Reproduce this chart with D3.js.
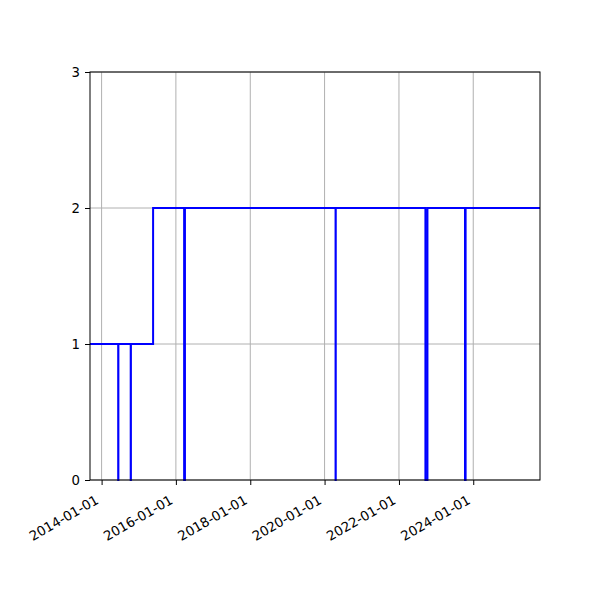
<!DOCTYPE html>
<html>
<head>
<meta charset="utf-8">
<script src="https://cdn.jsdelivr.net/npm/d3@7"></script>
<style>
  body { margin: 0; background: #fff; }
  text { font-family: "DejaVu Sans", sans-serif; }
</style>
</head>
<body>
<div id="chart"></div>
<script>
// step series (value holds until the next date)
const dates = ["2013-09-09", "2014-06-13", "2014-06-15", "2014-10-14", "2014-10-16",
  "2015-05-22", "2016-03-22", "2016-03-30", "2020-04-18", "2020-04-20",
  "2022-09-18", "2022-10-08", "2023-10-12", "2023-10-18", "2025-10-18"];
const values = [1, 0, 1, 0, 1, 2, 0, 2, 0, 2, 0, 2, 0, 2, 2];

const xTicks = ["2014-01-01", "2016-01-01", "2018-01-01", "2020-01-01", "2022-01-01", "2024-01-01"];
const yTicks = [0, 1, 2, 3];

const parse = d3.timeParse("%Y-%m-%d");
const data = dates.map((d, i) => ({ date: parse(d), value: values[i] }));

const width = 600, height = 600;
const margin = { top: 72, right: 60, bottom: 120, left: 90 };

const svg = d3.select("#chart").append("svg")
  .attr("width", width)
  .attr("height", height);

const x = d3.scaleTime()
  .domain(d3.extent(data, d => d.date))
  .range([margin.left, width - margin.right]);

const y = d3.scaleLinear()
  .domain([0, 3])
  .range([height - margin.bottom, margin.top]);

// grid
svg.append("g").selectAll("line")
  .data(xTicks)
  .enter().append("line")
  .attr("x1", d => x(parse(d))).attr("x2", d => x(parse(d)))
  .attr("y1", margin.top).attr("y2", height - margin.bottom)
  .attr("stroke", "#b0b0b0").attr("stroke-width", 1);

svg.append("g").selectAll("line")
  .data(yTicks)
  .enter().append("line")
  .attr("x1", margin.left).attr("x2", width - margin.right)
  .attr("y1", d => y(d)).attr("y2", d => y(d))
  .attr("stroke", "#b0b0b0").attr("stroke-width", 1);

// the line
const line = d3.line()
  .x(d => x(d.date))
  .y(d => y(d.value))
  .curve(d3.curveStepAfter);

svg.append("path")
  .datum(data)
  .attr("d", line)
  .attr("fill", "none")
  .attr("stroke", "#0000ff")
  .attr("stroke-width", 2);

// frame
svg.append("rect")
  .attr("x", margin.left).attr("y", margin.top)
  .attr("width", width - margin.left - margin.right)
  .attr("height", height - margin.top - margin.bottom)
  .attr("fill", "none").attr("stroke", "#000").attr("stroke-width", 1);

// x axis
const xAxis = svg.append("g")
  .attr("transform", `translate(0, ${height - margin.bottom})`)
  .call(d3.axisBottom(x).tickValues(xTicks.map(parse)).tickSize(5).tickFormat(""));
xAxis.select(".domain").remove();

svg.append("g").selectAll("text")
  .data(xTicks)
  .enter().append("text")
  .attr("transform", d => `translate(${x(parse(d)) - 7}, ${height - margin.bottom + 14}) rotate(-30)`)
  .attr("text-anchor", "end")
  .attr("dy", "0.75em")
  .attr("font-size", "13.3px")
  .attr("fill", "#000")
  .text(d => d);

// y axis
const yAxis = svg.append("g")
  .attr("transform", `translate(${margin.left}, 0)`)
  .call(d3.axisLeft(y).tickValues(yTicks).tickSize(5).tickPadding(5).tickFormat(d3.format("d")));
yAxis.select(".domain").remove();
yAxis.selectAll("text")
  .attr("font-size", "13.3px")
  .attr("font-family", "DejaVu Sans, sans-serif")
  .attr("fill", "#000");
</script>
</body>
</html>
